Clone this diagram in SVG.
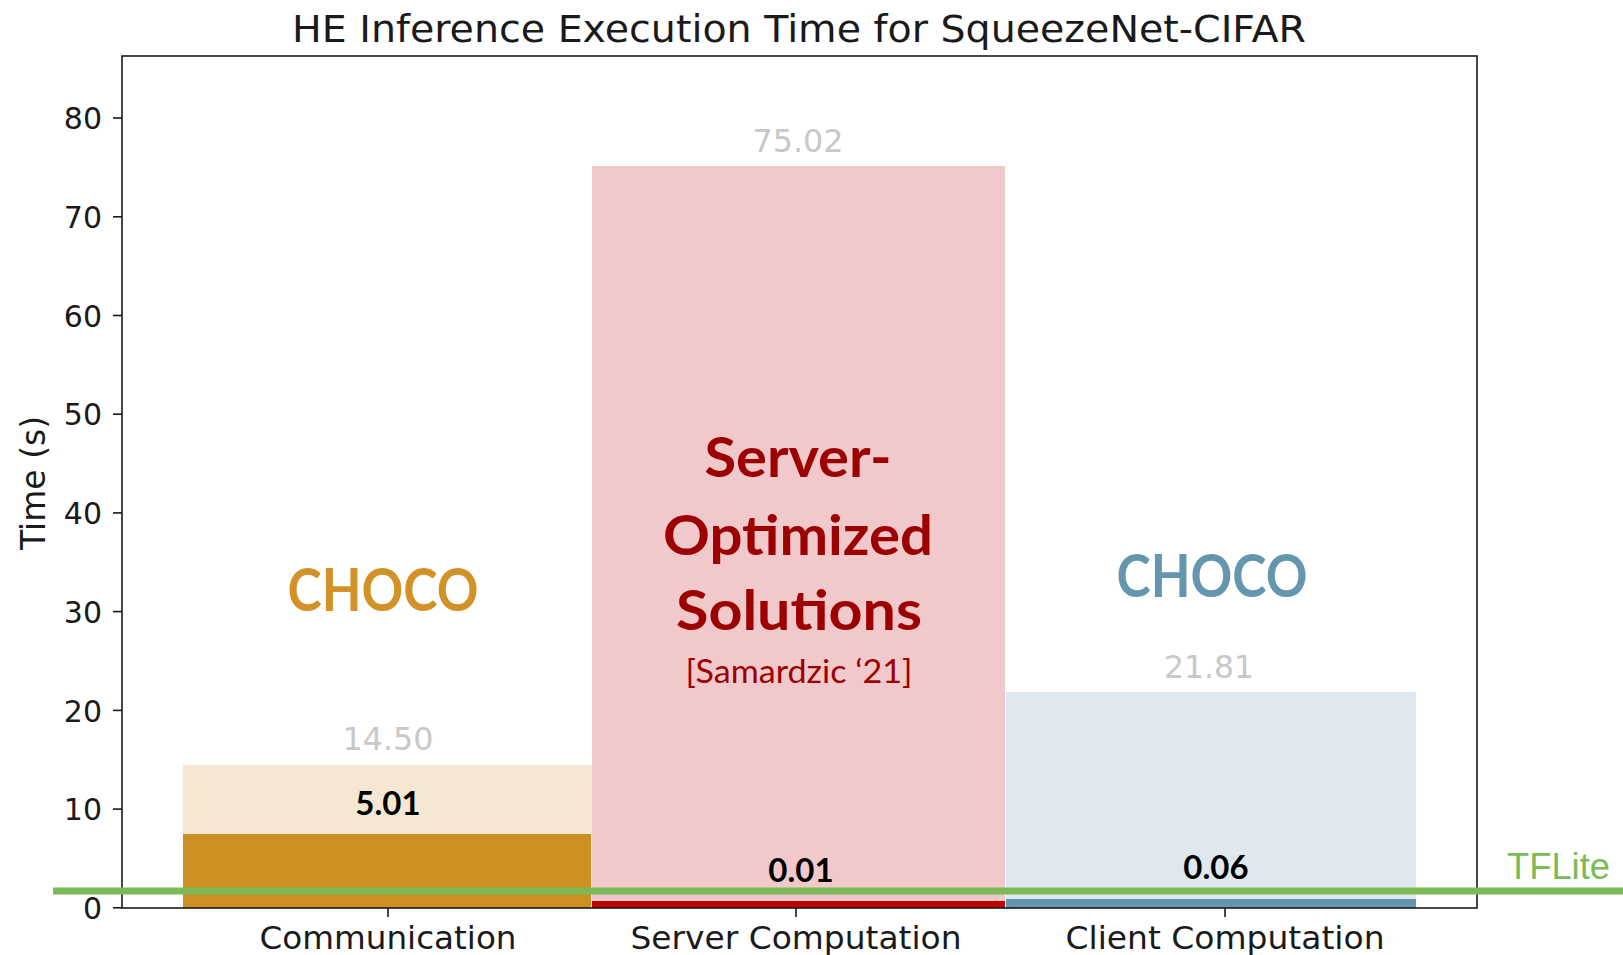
<svg xmlns="http://www.w3.org/2000/svg" width="1623" height="955" viewBox="0 0 1623 955">
  <style>
    .mpl { font-family: "DejaVu Sans", sans-serif; fill: #1a1a1a; }
    .tick { font-size: 30px; }
    .xlab { font-size: 32px; text-anchor: middle; }
    .ytick { text-anchor: end; }
    .total { font-family: "DejaVu Sans", sans-serif; font-size: 32px; fill: #c8c8c8; text-anchor: middle; }
    .val { font-family: Lato, "Open Sans", sans-serif; font-weight: bold; font-size: 33px; fill: #000; text-anchor: middle; }
    .big { font-family: Lato, "Open Sans", sans-serif; font-weight: bold; text-anchor: middle; }
    .spine { stroke: #1a1a1a; stroke-width: 1.6; fill: none; }
    .tk { stroke: #1a1a1a; stroke-width: 1.6; }
  </style>

  <rect width="1623" height="955" fill="#ffffff"/>

  <!-- title -->
  <text id="title" class="mpl" x="799" y="42" font-size="37" text-anchor="middle" textLength="1014" lengthAdjust="spacingAndGlyphs">HE Inference Execution Time for SqueezeNet-CIFAR</text>

  <!-- bars -->
  <g id="bar-communication">
    <rect x="183" y="765" width="409" height="143" fill="#f5e8d2"/>
    <rect x="183" y="834" width="408" height="74" fill="#ce8f22"/>
  </g>
  <g id="bar-server">
    <rect x="592" y="166" width="413" height="742" fill="#f2c9cb"/>
    <rect x="592" y="901" width="413" height="7" fill="#c00000"/>
  </g>
  <g id="bar-client">
    <rect x="1006" y="692" width="410" height="216" fill="#dfe8ee"/>
    <rect x="1006" y="899" width="410" height="9" fill="#6497af"/>
  </g>

  <!-- axes frame and ticks -->
  <g id="axes">
    <rect class="spine" x="122" y="56" width="1355" height="852"/>
    <g class="tk">
      <line x1="113" y1="907.8" x2="122" y2="907.8"/>
      <line x1="113" y1="809.1" x2="122" y2="809.1"/>
      <line x1="113" y1="710.4" x2="122" y2="710.4"/>
      <line x1="113" y1="611.6" x2="122" y2="611.6"/>
      <line x1="113" y1="512.9" x2="122" y2="512.9"/>
      <line x1="113" y1="414.2" x2="122" y2="414.2"/>
      <line x1="113" y1="315.5" x2="122" y2="315.5"/>
      <line x1="113" y1="216.8" x2="122" y2="216.8"/>
      <line x1="113" y1="118" x2="122" y2="118"/>
      <line x1="388" y1="908" x2="388" y2="917"/>
      <line x1="796" y1="908" x2="796" y2="917"/>
      <line x1="1225" y1="908" x2="1225" y2="917"/>
    </g>
    <g class="mpl tick ytick">
      <text x="102" y="919">0</text>
      <text x="102" y="820">10</text>
      <text x="102" y="721.5">20</text>
      <text x="102" y="622.7">30</text>
      <text x="102" y="524">40</text>
      <text x="102" y="425.3">50</text>
      <text x="102" y="326.6">60</text>
      <text x="102" y="227.9">70</text>
      <text x="102" y="129.1">80</text>
    </g>
    <g class="mpl xlab">
      <text x="388" y="949" textLength="257" lengthAdjust="spacingAndGlyphs">Communication</text>
      <text x="796" y="949" textLength="331" lengthAdjust="spacingAndGlyphs">Server Computation</text>
      <text x="1225" y="949" textLength="319" lengthAdjust="spacingAndGlyphs">Client Computation</text>
    </g>
    <text class="mpl" font-size="33" transform="translate(45 483) rotate(-90)" text-anchor="middle">Time (s)</text>
  </g>

  <!-- bar totals -->
  <g id="totals">
    <text class="total" x="388" y="750" textLength="91" lengthAdjust="spacingAndGlyphs">14.50</text>
    <text class="total" x="798" y="152" textLength="91" lengthAdjust="spacingAndGlyphs">75.02</text>
    <text class="total" x="1209" y="678" textLength="90" lengthAdjust="spacingAndGlyphs">21.81</text>
  </g>

  <!-- TFLite reference line -->
  <g id="tflite">
    <line x1="53" y1="891" x2="1623" y2="891" stroke="#7cba57" stroke-width="7"/>
    <text x="1507" y="879" font-family="'Liberation Sans', Arial, sans-serif" font-size="36" fill="#7cba57" textLength="103" lengthAdjust="spacingAndGlyphs">TFLite</text>
  </g>

  <!-- per-bar values -->
  <g id="values">
    <text class="val" x="388" y="815">5.01</text>
    <text class="val" x="801" y="882">0.01</text>
    <text class="val" x="1216" y="879">0.06</text>
  </g>

  <!-- annotations -->
  <g id="choco-comm">
    <text class="big" x="383" y="611" font-size="60" fill="#d39227" textLength="191" lengthAdjust="spacingAndGlyphs">CHOCO</text>
  </g>
  <g id="server-optimized">
    <text class="big" x="798" y="477" font-size="55" fill="#9c0000" textLength="187" lengthAdjust="spacingAndGlyphs">Server-</text>
    <text class="big" x="798" y="555" font-size="55" fill="#9c0000" textLength="270" lengthAdjust="spacingAndGlyphs">Optimized</text>
    <text class="big" x="799" y="630" font-size="55" fill="#9c0000" textLength="246" lengthAdjust="spacingAndGlyphs">Solutions</text>
    <text x="799" y="683" font-family="Lato, 'Open Sans', sans-serif" font-size="33" fill="#9c0000" text-anchor="middle" textLength="227" lengthAdjust="spacingAndGlyphs">[Samardzic ‘21]</text>
  </g>
  <g id="choco-client">
    <text class="big" x="1212" y="597" font-size="60" fill="#6496ae" textLength="191" lengthAdjust="spacingAndGlyphs">CHOCO</text>
  </g>
</svg>
